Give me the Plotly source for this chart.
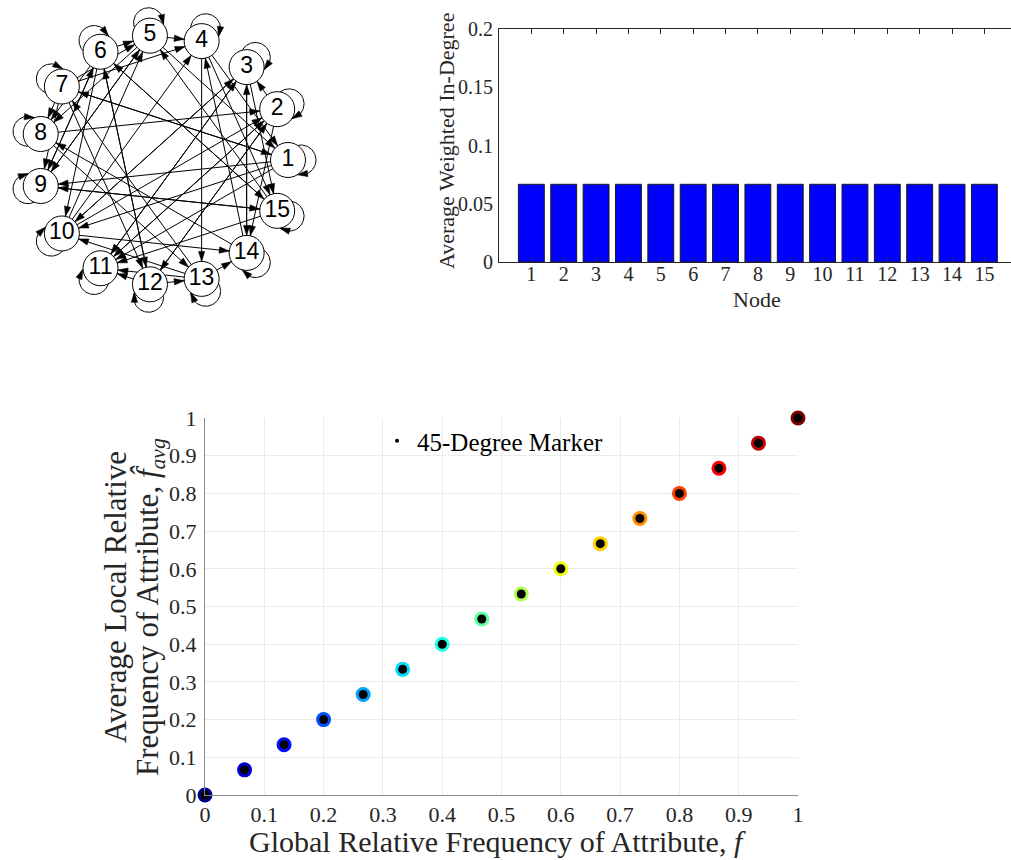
import numpy as np
import plotly.graph_objects as go

W, H = 1011, 860

# ---------------- data ----------------
node_ids = [1, 2, 3, 4, 5, 6, 7, 8, 9, 10, 11, 12, 13, 14, 15]
node_labels = ["1", "2", "3", "4", "5", "6", "7", "8", "9", "10", "11", "12", "13", "14", "15"]

# directed edges (source -> target), every node also has a self loop
edge_src = [1, 1, 1, 1,
            2, 2, 2, 2,
            3, 3, 3, 3,
            4, 4, 4,
            5, 5, 5, 5,
            6, 6, 6, 6, 6, 6,
            7, 7, 7, 7, 7, 7,
            8, 8,
            9, 9, 9,
            10, 10, 10, 10, 10,
            11, 11,
            12, 12, 12, 12,
            13, 13, 13, 13,
            14, 14, 14,
            15, 15, 15, 15]
edge_dst = [7, 9, 10, 11,
            3, 11, 12, 14,
            10, 11, 14, 15,
            1, 15, 13,
            4, 1, 8, 9,
            5, 8, 9, 10, 12, 15,
            1, 4, 5, 8, 9, 12,
            2, 13,
            5, 6, 15,
            2, 3, 4, 5, 14,
            2, 3,
            2, 6, 11, 13,
            7, 10, 11, 14,
            3, 4, 8,
            5, 6, 9, 11]

bar_nodes = [1, 2, 3, 4, 5, 6, 7, 8, 9, 10, 11, 12, 13, 14, 15]
bar_values = [0.0667, 0.0667, 0.0667, 0.0667, 0.0667, 0.0667, 0.0667, 0.0667,
              0.0667, 0.0667, 0.0667, 0.0667, 0.0667, 0.0667, 0.0667]
bar_yticks = [0, 0.05, 0.1, 0.15, 0.2]
bar_yticklabels = ["0", "0.05", "0.1", "0.15", "0.2"]

f_global = [0, 0.0667, 0.1333, 0.2, 0.2667, 0.3333, 0.4, 0.4667,
            0.5333, 0.6, 0.6667, 0.7333, 0.8, 0.8667, 0.9333, 1.0]
f_local_avg = [0, 0.0667, 0.1333, 0.2, 0.2667, 0.3333, 0.4, 0.4667,
               0.5333, 0.6, 0.6667, 0.7333, 0.8, 0.8667, 0.9333, 1.0]
point_colors = ["#00008F", "#0000CF", "#0010FF", "#0050FF", "#00A0FF", "#00DFFF",
                "#20FFDF", "#60FF9F", "#AFFF50", "#EFFF10", "#FFCF00", "#FF8F00",
                "#FF4000", "#FF0000", "#BF0000", "#800000"]
sc_ticks = [0, 0.1, 0.2, 0.3, 0.4, 0.5, 0.6, 0.7, 0.8, 0.9, 1]
sc_ticklabels = ["0", "0.1", "0.2", "0.3", "0.4", "0.5", "0.6", "0.7", "0.8", "0.9", "1"]

# ---------------- styling constants ----------------
SERIF = "Liberation Serif, Times New Roman, serif"
SANS = "Liberation Sans, Arial, sans-serif"
DARK = "#262626"

# network layout (pixel-like data units)
NET_W, NET_H = 330, 320
NET_CX, NET_CY, NET_R = 163, 160, 125
NODE_R = 17.5
LOOP_OFF, LOOP_R = 13, 15
AH_LEN, AH_HALF = 10, 3.2

n_nodes = len(node_ids)
ang = np.deg2rad(360.0 / n_nodes * np.arange(n_nodes))
nx = NET_CX + NET_R * np.cos(ang)
ny = NET_CY - NET_R * np.sin(ang)


def arrow_poly(tip, d):
    d = d / np.linalg.norm(d)
    nrm = np.array([-d[1], d[0]])
    base = tip - AH_LEN * d
    c1 = base + AH_HALF * nrm
    c2 = base - AH_HALF * nrm
    return [tip[0], c1[0], c2[0], tip[0], None], [tip[1], c1[1], c2[1], tip[1], None]


ex, ey, ahx, ahy = [], [], [], []
for s, t in zip(edge_src, edge_dst):
    p0 = np.array([nx[s - 1], ny[s - 1]])
    p1 = np.array([nx[t - 1], ny[t - 1]])
    ex += [p0[0], p1[0], None]
    ey += [p0[1], p1[1], None]
    d = (p1 - p0) / np.linalg.norm(p1 - p0)
    tip = p1 - NODE_R * d
    ax_, ay_ = arrow_poly(tip, d)
    ahx += ax_
    ahy += ay_

lx, ly = [], []
th = np.linspace(0, 2 * np.pi, 120)
for i in range(n_nodes):
    u = np.array([nx[i] - NET_CX, ny[i] - NET_CY]) / NET_R
    lc = np.array([nx[i], ny[i]]) + LOOP_OFF * u
    lx += list(lc[0] + LOOP_R * np.cos(th)) + [None]
    ly += list(lc[1] + LOOP_R * np.sin(th)) + [None]
    phi = np.arctan2(u[1], u[0])
    tt = phi + np.deg2rad(103)
    tip = lc + LOOP_R * np.array([np.cos(tt), np.sin(tt)])
    back_t = tt - AH_LEN / LOOP_R
    back = lc + LOOP_R * np.array([np.cos(back_t), np.sin(back_t)])
    ax_, ay_ = arrow_poly(tip, tip - back)
    ahx += ax_
    ahy += ay_

fig = go.Figure()

# ---- network ----
fig.add_trace(go.Scatter(x=ex, y=ey, mode="lines", line=dict(color="black", width=1),
                         hoverinfo="skip", showlegend=False, xaxis="x", yaxis="y"))
fig.add_trace(go.Scatter(x=lx, y=ly, mode="lines", line=dict(color="black", width=1),
                         hoverinfo="skip", showlegend=False, xaxis="x", yaxis="y"))
fig.add_trace(go.Scatter(x=nx, y=ny, mode="markers+text", text=node_labels,
                         textposition="middle center",
                         textfont=dict(family=SANS, size=23, color="black"),
                         marker=dict(size=2 * NODE_R, color="white",
                                     line=dict(color="black", width=1)),
                         showlegend=False, xaxis="x", yaxis="y", cliponaxis=False))
fig.add_trace(go.Scatter(x=ahx, y=ahy, mode="lines", fill="toself", fillcolor="black",
                         line=dict(color="black", width=0.5), hoverinfo="skip",
                         showlegend=False, xaxis="x", yaxis="y"))

# ---- bar chart ----
fig.add_trace(go.Bar(x=bar_nodes, y=bar_values, width=0.8,
                     marker=dict(color="#0000FF", line=dict(color="#1a1a1a", width=1)),
                     showlegend=False, xaxis="x2", yaxis="y2"))

# ---- scatter ----
fig.add_trace(go.Scatter(x=f_global, y=f_local_avg, mode="markers",
                         marker=dict(size=15, color=point_colors, line=dict(width=0)),
                         showlegend=False, cliponaxis=False, xaxis="x3", yaxis="y3"))
fig.add_trace(go.Scatter(x=f_global, y=f_global, mode="markers",
                         marker=dict(size=9, color="black", line=dict(width=0)),
                         showlegend=False, cliponaxis=False, xaxis="x3", yaxis="y3"))
fig.add_trace(go.Scatter(x=[None], y=[None], mode="markers", name="45-Degree Marker",
                         marker=dict(size=4, color="black"),
                         showlegend=True, xaxis="x3", yaxis="y3"))

BAR_L, BAR_T, BAR_B = 499, 29, 262
BAR_UNIT = 32.36
SC_L, SC_R, SC_T, SC_B = 205, 798, 418, 795

fig.update_layout(
    width=W, height=H,
    margin=dict(l=0, r=0, t=0, b=0, autoexpand=False),
    paper_bgcolor="white", plot_bgcolor="white",
    xaxis=dict(domain=[0, NET_W / W], range=[0, NET_W], visible=False, fixedrange=True),
    yaxis=dict(domain=[1 - NET_H / H, 1], range=[NET_H, 0], visible=False, fixedrange=True),
    xaxis2=dict(domain=[BAR_L / W, 1], range=[0, (W - BAR_L) / BAR_UNIT], anchor="y2",
                tickmode="array", tickvals=bar_nodes, ticktext=[str(v) for v in bar_nodes],
                ticks="inside", ticklen=5, tickcolor=DARK, showline=True, linecolor=DARK,
                linewidth=1, mirror="ticks", showgrid=False, zeroline=False,
                tickfont=dict(family=SERIF, size=20, color=DARK), ticklabelstandoff=-6),
    yaxis2=dict(domain=[1 - BAR_B / H, 1 - BAR_T / H], range=[0, 0.2], anchor="x2",
                tickmode="array", tickvals=bar_yticks, ticktext=bar_yticklabels,
                ticks="", showline=True, linecolor=DARK, linewidth=1, showgrid=False,
                zeroline=False, tickfont=dict(family=SERIF, size=20, color=DARK),
                ticklabelstandoff=1),
    xaxis3=dict(domain=[SC_L / W, SC_R / W], range=[0, 1], anchor="y3",
                tickmode="array", tickvals=sc_ticks, ticktext=sc_ticklabels,
                ticks="", showline=True, linecolor="#8c8c8c", linewidth=1,
                showgrid=True, gridcolor="#ebebeb", gridwidth=1, zeroline=False,
                tickfont=dict(family=SERIF, size=22, color=DARK), ticklabelstandoff=0),
    yaxis3=dict(domain=[1 - SC_B / H, 1 - SC_T / H], range=[0, 1], anchor="x3",
                tickmode="array", tickvals=sc_ticks, ticktext=sc_ticklabels,
                ticks="", showline=True, linecolor="#8c8c8c", linewidth=1,
                showgrid=True, gridcolor="#ebebeb", gridwidth=1, zeroline=False,
                tickfont=dict(family=SERIF, size=22, color=DARK), ticklabelstandoff=3),
    legend=dict(x=377 / W, y=1 - 441 / H, xanchor="left", yanchor="middle",
                bgcolor="rgba(0,0,0,0)", borderwidth=0,
                font=dict(family=SERIF, size=25, color="black")),
    annotations=[
        dict(text="Average Weighted In-Degree", x=447 / W, y=1 - 141 / H,
             xref="paper", yref="paper", showarrow=False, textangle=-90,
             xanchor="center", yanchor="middle",
             font=dict(family=SERIF, size=22, color=DARK)),
        dict(text="Node", x=757 / W, y=1 - 299 / H, xref="paper", yref="paper",
             showarrow=False, xanchor="center", yanchor="middle",
             font=dict(family=SERIF, size=22, color=DARK)),
        dict(text="Global Relative Frequency of Attribute, <i>f</i>", x=497 / W,
             y=1 - 841 / H, xref="paper", yref="paper", showarrow=False,
             xanchor="center", yanchor="middle",
             font=dict(family=SERIF, size=30, color=DARK)),
        dict(text="Average Local Relative", x=115 / W, y=1 - 597 / H,
             xref="paper", yref="paper", showarrow=False, textangle=-90,
             xanchor="center", yanchor="middle",
             font=dict(family=SERIF, size=31, color=DARK)),
        dict(text="Frequency of Attribute, <i>f\u0302</i><sub><i>avg</i></sub>",
             x=150 / W, y=1 - 607 / H,
             xref="paper", yref="paper", showarrow=False, textangle=-90,
             xanchor="center", yanchor="middle",
             font=dict(family=SERIF, size=31, color=DARK)),
    ],
)

fig.write_html("out.html", config={"displayModeBar": False},
               post_script="document.body.style.margin='0';document.body.style.overflow='hidden';")
